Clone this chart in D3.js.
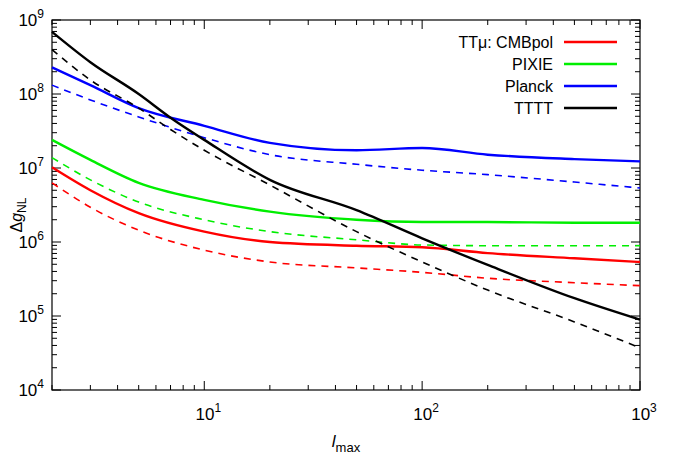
<!DOCTYPE html>
<html><head><meta charset="utf-8">
<script src="https://cdn.jsdelivr.net/npm/d3@7"></script>
<style>body{margin:0;background:#fff}text{font-family:"Liberation Sans",Arial,sans-serif}</style>
</head><body><div id="chart"></div>
<script>
// l_max sample points and log10(Delta g_NL)
var lmax = [2, 3, 5, 10, 20, 50, 100, 200, 500, 1000];
var cmbpolSolid = [7.01, 6.70, 6.39, 6.14, 6.00, 5.95, 5.93, 5.85, 5.78, 5.73];
var cmbpolDash  = [6.80, 6.47, 6.16, 5.89, 5.73, 5.65, 5.59, 5.51, 5.45, 5.41];
var pixieSolid  = [7.38, 7.11, 6.80, 6.57, 6.41, 6.30, 6.27, 6.27, 6.26, 6.26];
var pixieDash   = [7.14, 6.84, 6.54, 6.30, 6.14, 6.03, 5.96, 5.95, 5.95, 5.95];
var planckSolid = [8.36, 8.12, 7.81, 7.57, 7.34, 7.24, 7.27, 7.18, 7.12, 7.09];
var planckDash  = [8.12, 7.92, 7.69, 7.41, 7.18, 7.05, 6.97, 6.91, 6.81, 6.73];
var ttttL = [2, 3, 5, 7, 10, 20, 50, 100, 200, 500, 1000];
var ttttSolid = [8.84, 8.43, 8.00, 7.68, 7.38, 6.84, 6.43, 6.05, 5.69, 5.24, 4.95];
var ttttDash  = [8.60, 8.19, 7.81, 7.52, 7.24, 6.77, 6.14, 5.73, 5.35, 4.92, 4.57];
var legendLabels = ["TTμ: CMBpol", "PIXIE", "Planck", "TTTT"];
var colors = ["#ff0000", "#00ee00", "#0000ff", "#000000"];

(function(){
var W = 674, H = 471, left = 52, right = 640, top0 = 20, bottom = 390;
var svg = d3.select("#chart").append("svg").attr("width", W).attr("height", H);
var x = d3.scaleLog().domain([2, 1000]).range([left, right]);
var y = d3.scaleLog().domain([1e4, 1e9]).range([bottom, top0]);

// minor/major ticks, inward on all sides
var xt = [], yt = [];
for (var d = 1; d <= 100; d *= 10) for (var k = 1; k < 10; k++) { var v = d * k; if (v >= 2 && v <= 1000) xt.push(v); }
xt.push(1000);
for (var e = 4; e < 9; e++) for (var k = 1; k < 10; k++) yt.push(k * Math.pow(10, e));
yt.push(1e9);
function major(v) { return Math.abs(Math.log10(v) - Math.round(Math.log10(v))) < 1e-9; }
var g = svg.append("g").attr("stroke", "#000").attr("stroke-width", 1);
xt.forEach(function(v) {
  var L = major(v) ? 9 : 5, px = x(v);
  g.append("line").attr("x1", px).attr("x2", px).attr("y1", bottom).attr("y2", bottom - L);
  g.append("line").attr("x1", px).attr("x2", px).attr("y1", top0).attr("y2", top0 + L);
});
yt.forEach(function(v) {
  var L = major(v) ? 9 : 5, py = y(v);
  g.append("line").attr("x1", left).attr("x2", left + L).attr("y1", py).attr("y2", py);
  g.append("line").attr("x1", right).attr("x2", right - L).attr("y1", py).attr("y2", py);
});
svg.append("rect").attr("x", left).attr("y", top0).attr("width", right - left).attr("height", bottom - top0)
  .attr("fill", "none").attr("stroke", "#000").attr("stroke-width", 1.2);

function powLabel(px, py, anchor, exp) {
  var t = svg.append("text").attr("x", px).attr("y", py).attr("text-anchor", anchor).attr("font-size", 17);
  t.append("tspan").text("10");
  t.append("tspan").attr("dy", -8).attr("font-size", 12).text(exp);
}
[1, 2, 3].forEach(function(e) { powLabel(x(Math.pow(10, e)) + 4, bottom + 30, "middle", e); });
[4, 5, 6, 7, 8, 9].forEach(function(e) { powLabel(left - 8, y(Math.pow(10, e)) + 6, "end", e); });

var xl = svg.append("text").attr("x", 346).attr("y", 447).attr("text-anchor", "middle").attr("font-size", 17);
xl.append("tspan").attr("font-style", "italic").text("l");
xl.append("tspan").attr("dy", 5).attr("font-size", 13).text("max");
var yl = svg.append("text").attr("transform", "translate(22,215) rotate(-90)").attr("text-anchor", "middle").attr("font-size", 16);
yl.append("tspan").text("Δ");
yl.append("tspan").attr("font-style", "italic").text("g");
yl.append("tspan").attr("dy", 4).attr("font-size", 12).text("NL");

var line = d3.line().curve(d3.curveMonotoneX)
  .x(function(d) { return x(d[0]); }).y(function(d) { return y(Math.pow(10, d[1])); });
function draw(ls, vs, col, dash) {
  svg.append("path").datum(d3.zip(ls, vs)).attr("d", line).attr("fill", "none")
    .attr("stroke", col).attr("stroke-width", dash ? 1.6 : 2.4)
    .attr("stroke-dasharray", dash ? "7,6" : null);
}
draw(lmax, cmbpolDash, colors[0], true);  draw(lmax, cmbpolSolid, colors[0], false);
draw(lmax, pixieDash, colors[1], true);   draw(lmax, pixieSolid, colors[1], false);
draw(lmax, planckDash, colors[2], true);  draw(lmax, planckSolid, colors[2], false);
draw(ttttL, ttttDash, colors[3], true);   draw(ttttL, ttttSolid, colors[3], false);

legendLabels.forEach(function(s, i) {
  var ly = 42 + i * 22;
  svg.append("text").attr("x", 553).attr("y", ly + 6).attr("text-anchor", "end").attr("font-size", 16).text(s);
  svg.append("line").attr("x1", 564).attr("x2", 617).attr("y1", ly).attr("y2", ly)
    .attr("stroke", colors[i]).attr("stroke-width", 2.4);
});
})();
</script></body></html>
